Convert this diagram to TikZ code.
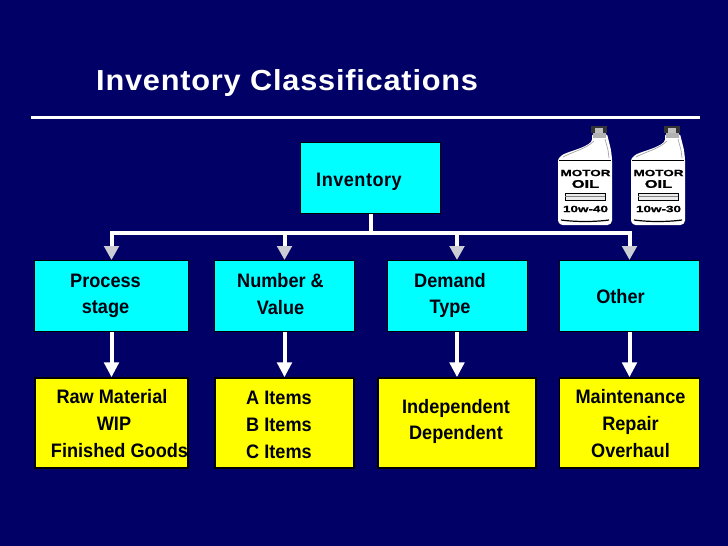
\documentclass[tikz,border=0pt]{standalone}
\usepackage{fontspec}
\setmainfont{Liberation Sans}[BoldFont={Liberation Sans Bold}]
\newfontfamily\titlefont{Liberation Sans Bold}[FakeStretch=1.06,LetterSpace=2.7]
\newfontfamily\boxfont{Liberation Sans Bold}[FakeStretch=0.93]
\newfontfamily\bottlefont{Liberation Sans Bold}[FakeStretch=1.5,FakeBold=1.2]
\usetikzlibrary{arrows.meta}
\definecolor{slidenavy}{HTML}{000066}
\definecolor{boxcyan}{HTML}{00FFFF}
\definecolor{boxyellow}{HTML}{FFFF00}
\definecolor{tipgray}{HTML}{CCCCD4}
\tikzset{
    x=1pt, y=-1pt,
    cyanbox/.style={draw=black, line width=1pt, fill=boxcyan, minimum height=71pt, inner sep=0pt},
    yellowbox/.style={draw=black, line width=1.5pt, fill=boxyellow, minimum height=90pt, inner sep=0pt},
    boxtext/.style={align=center, text=black!85!slidenavy, font=\boxfont\fontsize{19.5}{26.7}\selectfont},
    busline/.style={draw=white, line width=4pt},
    grayarrow/.style={busline, -{Triangle[length=14pt,width=14.5pt,fill=tipgray,color=tipgray]}},
    whitearrow/.style={busline, -{Triangle[length=15pt,width=14.5pt,fill=white,color=white]}},
    bottletext/.style={inner sep=0pt, text=black},
    motoroil/.pic={
        \fill[white, rounded corners=1.5pt] (34,8) -- (34,15) .. controls (27,22) and (12,25) .. (4,29)
            -- (0,33) -- (0,96) -- (3,99) -- (51,99) -- (54,96) -- (54,33) -- (53,24) -- (49,8) -- cycle;
        \fill[black!30] (35,7) rectangle (48,12);
        \fill[black!80] (33,0) rectangle (49,7);
        \fill[black!25] (37,2) rectangle (45,7);
        \draw[black, line width=1pt] (1,34) -- (53,34);
        \draw[gray!70, line width=0.7pt] (36,15) .. controls (28,23) and (14,26) .. (5,31);
        \draw[gray!70, line width=0.7pt] (51,32) -- (50,24) -- (47,13);
        \draw[black, line width=1.2pt] (3,94) .. controls (18,96) and (36,96) .. (51,94);
        \draw[black, fill=gray!15, line width=0.6pt] (7,67) rectangle (47,74);
        \draw[gray, line width=0.8pt] (7,70.5) -- (47,70.5);
        \node[bottletext, font=\bottlefont\fontsize{9}{9}\selectfont] at (27.5,47) {MOTOR};
        \node[bottletext, font=\bottlefont\fontsize{11}{11}\selectfont] at (27.5,58) {OIL};
        \node[bottletext, font=\bottlefont\fontsize{9}{9}\selectfont] at (27.5,83) {#1};
    }
}
\begin{document}
\begin{tikzpicture}
    \useasboundingbox[fill=slidenavy] (0,0) rectangle (728,546);
    \node[anchor=base west, text=white, inner sep=0pt, font=\titlefont\fontsize{29}{34}\selectfont] (title) at (96,90) {Inventory Classifications};
    \coordinate (ruleleft) at (31,117.5);
    \coordinate (ruleright) at (700,117.5);
    \draw[white, line width=2.5pt] (ruleleft) -- (ruleright);

    \pic at (558,126) {motoroil={10w-40}};
    \pic at (631,126) {motoroil={10w-30}};

    \node[cyanbox, minimum width=140.5pt] (inventory) at (370.5,178) {};
    \node[cyanbox, minimum width=154pt] (process) at (111.5,296) {};
    \node[cyanbox, minimum width=140pt] (number) at (284.5,296) {};
    \node[cyanbox, minimum width=140pt] (demand) at (457,296) {};
    \node[cyanbox, minimum width=140pt] (other) at (629.5,296) {};

    \node[yellowbox, minimum width=153pt] (material) at (111.5,423) {};
    \node[yellowbox, minimum width=139pt] (items) at (284.5,423) {};
    \node[yellowbox, minimum width=158pt] (independent) at (457,423) {};
    \node[yellowbox, minimum width=140pt] (maintenance) at (629.5,423) {};

    \node[boxtext, font=\boxfont\fontsize{19.5}{26.7}\selectfont\addfontfeature{LetterSpace=2.5}] (inventorytext) at (359,181.5) {Inventory};
    \node[boxtext] (processtext) at (105.5,296) {Process\\stage};
    \node[boxtext] (numbertext) at (280.5,294) {Number \&\\Value};
    \node[boxtext] (demandtext) at (450,295.5) {Demand\\Type};
    \node[boxtext] (othertext) at (620.5,296.5) {Other};
    \node[boxtext] (materialtext) at (119.5,423.5) {\mbox{Raw Material\kern15pt}\\\mbox{WIP\kern11pt}\\Finished Goods};
    \node[boxtext, align=left] (itemstext) at (279,425) {A Items\\B Items\\C Items};
    \node[boxtext] (independenttext) at (456,421.5) {Independent\\Dependent};
    \node[boxtext] (maintenancetext) at (630.5,423.5) {Maintenance\\Repair\\Overhaul};

    \coordinate (busroot) at (370.5,233);
    \coordinate (busprocess) at (111.5,233);
    \coordinate (busnumber) at (284.5,233);
    \coordinate (busdemand) at (457,233);
    \coordinate (busother) at (629.5,233);
    \draw[busline] (inventory.south) -- (busroot);
    \draw[busline, line cap=rect] (busprocess) -- (busother);
    \draw[grayarrow] (busprocess) -- (process.north);
    \draw[grayarrow] (busnumber) -- (number.north);
    \draw[grayarrow] (busdemand) -- (demand.north);
    \draw[grayarrow] (busother) -- (other.north);

    \draw[whitearrow] (process.south) -- (material.north);
    \draw[whitearrow] (number.south) -- (items.north);
    \draw[whitearrow] (demand.south) -- (independent.north);
    \draw[whitearrow] (other.south) -- (maintenance.north);
\end{tikzpicture}
\end{document}
